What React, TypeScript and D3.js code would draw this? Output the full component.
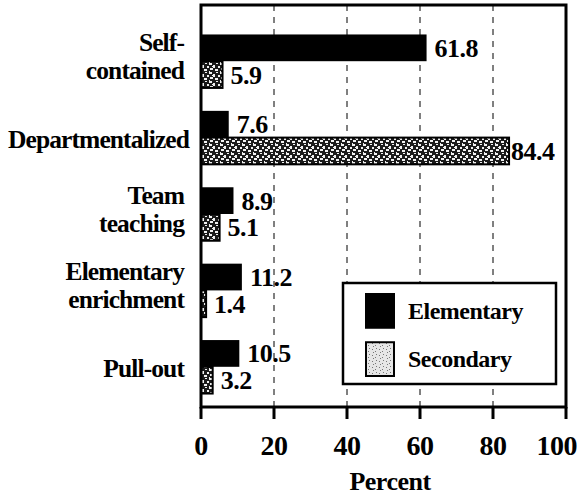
import React, { useEffect, useRef } from "react";
import * as d3 from "d3";

const categories = ["Self-contained", "Departmentalized", "Team teaching", "Elementary enrichment", "Pull-out"];
const categoryLines = [["Self-", "contained"], ["Departmentalized"], ["Team", "teaching"], ["Elementary", "enrichment"], ["Pull-out"]];
const elementary = [61.8, 7.6, 8.9, 11.2, 10.5];
const secondary = [5.9, 84.4, 5.1, 1.4, 3.2];
const xTicks = [0, 20, 40, 60, 80, 100];
const seriesNames = ["Elementary", "Secondary"];

const W = 577;
const H = 496;
const FONT = "'Liberation Serif', 'DejaVu Serif', serif";

export default function App() {
  const ref = useRef<SVGSVGElement>(null);

  useEffect(() => {
    const svg = d3.select(ref.current);
    svg.selectAll("*").remove();

    const left = 201, right = 566, top = 5, bottom = 407;

    const x = d3.scaleLinear().domain([0, 100]).range([left, right]);
    const y = d3.scaleBand().domain(categories).range([23, 405]).paddingInner(0.3).paddingOuter(0.15);
    const half = y.bandwidth() / 2;

    // speckled fill for secondary
    const defs = svg.append("defs");
    const pat = defs.append("pattern")
      .attr("id", "speckle")
      .attr("patternUnits", "userSpaceOnUse")
      .attr("width", 11).attr("height", 9);
    pat.append("rect").attr("width", 11).attr("height", 9).attr("fill", "#1a1a1a");
    [[0, 0, 3, 2], [4, 2, 2, 3], [7, 0, 2, 1], [1, 5, 3, 2], [6, 6, 3, 2], [9, 3, 2, 2], [0, 8, 1, 1], [3, 3, 1, 1]]
      .forEach(([a, b, c, d]) => pat.append("rect").attr("x", a).attr("y", b).attr("width", c).attr("height", d).attr("fill", "#f0f0f0"));
    const pat2 = defs.append("pattern")
      .attr("id", "speckleLight")
      .attr("patternUnits", "userSpaceOnUse")
      .attr("width", 7).attr("height", 6);
    pat2.append("rect").attr("width", 7).attr("height", 6).attr("fill", "#e6e6e6");
    [[1, 1, 1, 1], [4, 3, 1, 1], [2, 4, 1, 1], [5, 0, 1, 1]]
      .forEach(([a, b, c, d]) => pat2.append("rect").attr("x", a).attr("y", b).attr("width", c).attr("height", d).attr("fill", "#777"));

    // gridlines
    svg.append("g")
      .selectAll("line")
      .data(xTicks.slice(1, -1))
      .join("line")
      .attr("x1", d => x(d)).attr("x2", d => x(d))
      .attr("y1", top).attr("y2", bottom)
      .attr("stroke", "#000")
      .attr("stroke-width", 1)
      .attr("stroke-dasharray", "6,6");

    // bars
    const g = svg.append("g");
    const rows = categories.map((c, i) => ({ c, e: elementary[i], s: secondary[i] }));
    g.selectAll(".bar_e")
      .data(rows)
      .join("rect")
      .attr("class", "bar_e")
      .attr("x", x(0))
      .attr("y", d => y(d.c)!)
      .attr("width", d => x(d.e) - x(0))
      .attr("height", half)
      .attr("fill", "#000");
    g.selectAll(".bar_s")
      .data(rows)
      .join("rect")
      .attr("class", "bar_s")
      .attr("x", x(0))
      .attr("y", d => y(d.c)! + half)
      .attr("width", d => x(d.s) - x(0))
      .attr("height", half)
      .attr("fill", "url(#speckle)")
      .attr("stroke", "#000")
      .attr("stroke-width", 2);

    // value labels
    const lbl = (size: number) => (sel: any) => sel
      .attr("font-family", FONT)
      .attr("font-weight", "bold")
      .attr("font-size", size)
      .attr("letter-spacing", -0.5)
      .attr("fill", "#000");
    g.selectAll(".val_e")
      .data(rows)
      .join("text")
      .attr("class", "val_e")
      .attr("x", d => x(d.e) + 8)
      .attr("y", d => y(d.c)! + half / 2 + 9)
      .text(d => d.e.toFixed(1))
      .call(lbl(26));
    g.selectAll(".val_s")
      .data(rows)
      .join("text")
      .attr("class", "val_s")
      .attr("x", d => x(d.s) + (d.s > 50 ? 2 : 8))
      .attr("y", d => y(d.c)! + half * 1.5 + 9)
      .text(d => d.s.toFixed(1))
      .call(lbl(26));

    // frame
    svg.append("rect")
      .attr("x", left).attr("y", top)
      .attr("width", right - left).attr("height", bottom - top)
      .attr("fill", "none")
      .attr("stroke", "#000")
      .attr("stroke-width", 3);

    // x axis ticks & labels
    const ax = svg.append("g");
    ax.selectAll("line")
      .data(xTicks)
      .join("line")
      .attr("x1", d => x(d)).attr("x2", d => x(d))
      .attr("y1", bottom).attr("y2", bottom + 12)
      .attr("stroke", "#000")
      .attr("stroke-width", 3);
    ax.selectAll("text")
      .data(xTicks)
      .join("text")
      .attr("x", d => x(d))
      .attr("y", 455)
      .attr("text-anchor", d => (d === 100 ? "end" : "middle"))
      .attr("dx", d => (d === 100 ? 11 : 0))
      .text(d => d)
      .call(lbl(28));
    svg.append("text")
      .attr("x", 390)
      .attr("y", 490)
      .attr("text-anchor", "middle")
      .text("Percent")
      .call(lbl(26));

    // category labels
    const cat = svg.append("g");
    categoryLines.forEach((lines, i) => {
      const cy = y(categories[i])! + half;
      const t = cat.append("text")
        .attr("text-anchor", "end")
        .attr("font-family", FONT)
        .attr("font-weight", "bold")
        .attr("font-size", 25.5)
        .attr("letter-spacing", -0.9)
        .attr("fill", "#000");
      lines.forEach((line, j) => {
        t.append("tspan")
          .attr("x", 184)
          .attr("y", lines.length === 1 ? cy + 10 : cy - 10 + j * 28)
          .text(line);
      });
      const bb = (t.node() as SVGTextElement).getBBox();
      if (bb.x < 8) t.selectAll("tspan").attr("x", 184 + (8 - bb.x));
    });

    // legend
    const lg = svg.append("g");
    lg.append("rect")
      .attr("x", 343).attr("y", 283)
      .attr("width", 213).attr("height", 101)
      .attr("fill", "#fff")
      .attr("stroke", "#000")
      .attr("stroke-width", 2.5);
    const lgRow = d3.scaleBand().domain(seriesNames).range([294, 376]).paddingInner(0.3);
    lg.selectAll("rect.sw")
      .data(seriesNames)
      .join("rect")
      .attr("class", "sw")
      .attr("x", 366)
      .attr("y", d => lgRow(d)!)
      .attr("width", 28)
      .attr("height", lgRow.bandwidth())
      .attr("fill", d => (d === "Elementary" ? "#000" : "url(#speckleLight)"))
      .attr("stroke", "#000")
      .attr("stroke-width", 2);
    lg.selectAll("text")
      .data(seriesNames)
      .join("text")
      .attr("x", 408)
      .attr("y", d => lgRow(d)! + lgRow.bandwidth() / 2 + 8)
      .text(d => d)
      .call(lbl(24));
  }, []);

  return (
    <svg
      ref={ref}
      width={W}
      height={H}
      style={{ position: "absolute", left: 0, top: 0, background: "#fff" }}
    />
  );
}
